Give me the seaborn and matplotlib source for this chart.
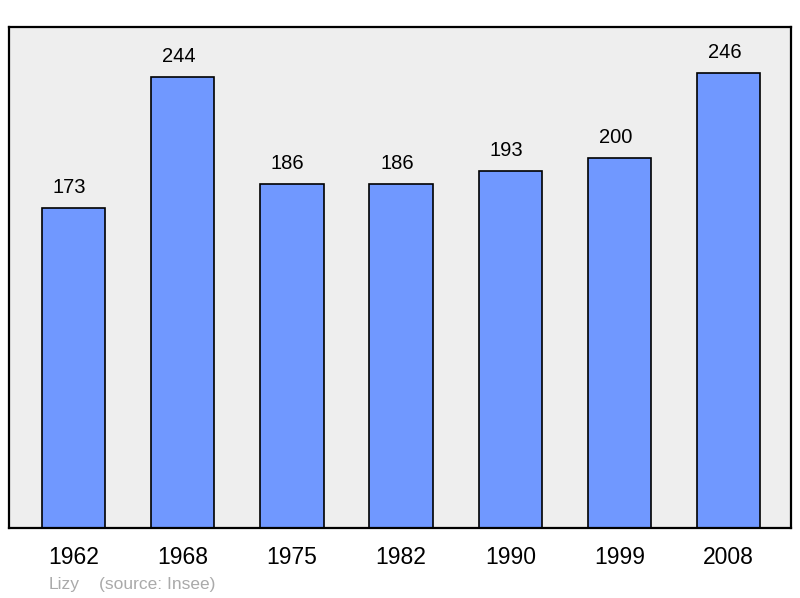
import matplotlib.pyplot as plt
import pandas as pd
import seaborn as sns

# population by census year
years = ["1962", "1968", "1975", "1982", "1990", "1999", "2008"]
population = [173, 244, 186, 186, 193, 200, 246]
commune = "Lizy"
source = "(source: Insee)"

df = pd.DataFrame({"year": years, "population": population})

sns.set_style("white")
plt.rcParams['font.family'] = ['Liberation Sans', 'DejaVu Sans']

fig = plt.figure(figsize=(8, 5.98), dpi=100)
ax = fig.add_axes([9 / 800, 1 - 528 / 598, 782 / 800, 501 / 598])
ax.set_facecolor("#eeeeee")

sns.barplot(data=df, x="year", y="population", color="#7098ff",
            saturation=1, width=0.58, edgecolor="black", linewidth=1.2, ax=ax)

# value labels above bars
for i, v in enumerate(population):
    ax.annotate(str(v), (i, v), xytext=(-3, 8), textcoords="offset points",
                ha="center", va="bottom", fontsize=14.5, color="black")

ax.set_xlim(-0.59, 6.57)
ax.set_ylim(0, 271)
ax.set_xlabel("")
ax.set_ylabel("")
ax.set_yticks([])
ax.tick_params(axis="x", length=0, pad=13, labelsize=16.5, labelcolor="black")
for s in ax.spines.values():
    s.set_visible(True)
    s.set_color("black")
    s.set_linewidth(1.6)

fig.text(49 / 800, 1 - 585 / 598, commune, color="#aaaaaa", fontsize=12.5, va="center")
fig.text(99 / 800, 1 - 585 / 598, source, color="#aaaaaa", fontsize=12.5, va="center")

fig.savefig("out.png", dpi=100)
